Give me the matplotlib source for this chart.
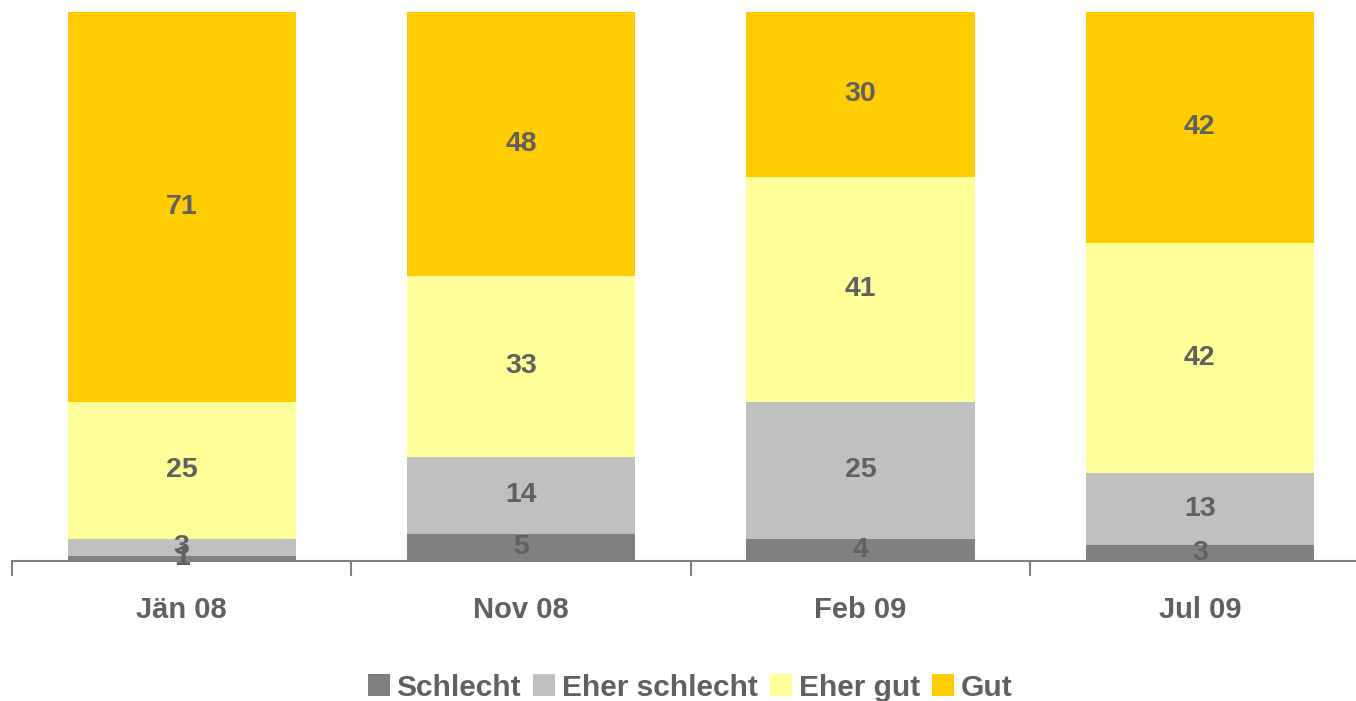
import matplotlib
matplotlib.use('Agg')
from matplotlib import pyplot as plt
from matplotlib.patches import Patch
import numpy as np

categories = ['Jän 08', 'Nov 08', 'Feb 09', 'Jul 09']
schlecht = [1, 5, 4, 3]
eher_schlecht = [3, 14, 25, 13]
eher_gut = [25, 33, 41, 42]
gut = [71, 48, 30, 42]

series = [('Schlecht', schlecht, '#808080'),
          ('Eher schlecht', eher_schlecht, '#C0C0C0'),
          ('Eher gut', eher_gut, '#FFFF99'),
          ('Gut', gut, '#FFCC00')]

txt = '#606060'
plt.rcParams['font.family'] = ['Liberation Sans', 'DejaVu Sans']

fig = plt.figure(figsize=(13.56, 7.01), dpi=100)
ax = fig.add_axes([12 / 1356, 1 - 561 / 701, 1357.6 / 1356, 549 / 701])

x = np.arange(len(categories))
bottom = np.zeros(len(categories))
for name, vals, col in series:
    vals = np.array(vals, dtype=float)
    ax.bar(x, vals, 0.672, bottom=bottom, color=col, linewidth=0)
    for xi, b, v in zip(x, bottom, vals):
        ax.text(xi, b + v / 2, f'{int(v)}', ha='center', va='center',
                fontsize=20.5, fontweight='bold', color=txt, clip_on=False,
                zorder=5)
    bottom += vals

ax.set_xlim(-0.5, 3.5)
ax.set_ylim(0, 100)
for s in ['top', 'right', 'left']:
    ax.spines[s].set_visible(False)
ax.spines['bottom'].set_color('#808080')
ax.spines['bottom'].set_linewidth(1.5)
ax.spines['bottom'].set_zorder(4)
ax.set_yticks([])

ax.set_xticks(x)
ax.set_xticklabels(categories, fontsize=21, fontweight='bold', color=txt)
ax.tick_params(axis='x', which='major', length=0, pad=25)
ax.set_xticks(np.arange(-0.5, 4, 1), minor=True)
ax.tick_params(axis='x', which='minor', length=11, width=1.5, color='#808080',
               direction='out')

handles = [Patch(facecolor=c, edgecolor='none', label=n) for n, _, c in series]
fig.legend(handles=handles, loc='center', bbox_to_anchor=(0.509, 0.019),
           ncol=4, frameon=False, handlelength=0.74, handleheight=0.74,
           handletextpad=0.23, columnspacing=0.4, borderpad=0,
           prop={'weight': 'bold', 'size': 21.5},
           labelcolor=txt)

fig.savefig('out.png', dpi=100)
